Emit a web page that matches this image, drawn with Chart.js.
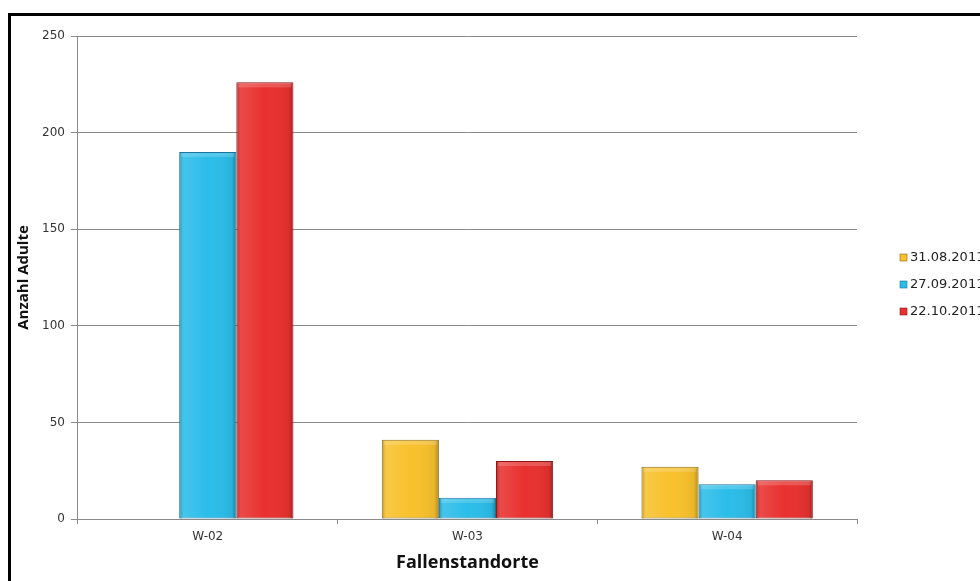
<!DOCTYPE html>
<html>
<head>
<meta charset="utf-8">
<script src="https://cdn.jsdelivr.net/npm/chart.js@4.4.0/dist/chart.umd.min.js"></script>
<style>
    html, body { margin: 0; padding: 0; background: #fff; overflow: hidden; }
    .chart-container { position: relative; width: 980px; height: 581px; }
    .frame {
        position: absolute; left: 8px; top: 13px; right: -10px; bottom: -10px;
        border-left: 3px solid #000; border-top: 3px solid #000;
        pointer-events: none;
    }
</style>
</head>
<body>
<div class="chart-container">
    <canvas id="barChart" width="980" height="581"></canvas>
    <div class="frame"></div>
</div>
<script>
// Fallenstandorte (categories)
const sites = ['W-02', 'W-03', 'W-04'];

// sampling dates (series)
const dates = ['31.08.2011', '27.09.2011', '22.10.2011'];

// Anzahl Adulte per site, one array per date
const aug31 = [0, 41, 27];
const sep27 = [190, 11, 18];
const oct22 = [226, 30, 20];

const yTicks = [0, 50, 100, 150, 200, 250];

const FILLS = ['#f8c12c', '#2bbde9', '#e8312f'];
const EDGES = ['#8a6a14', '#17739b', '#861919'];

// bevel shading over bars, so they look a bit like the excel 3d bars
const bevel = {
    id: 'bevel',
    afterDatasetsDraw(chart) {
        const ctx = chart.ctx;
        chart.data.datasets.forEach((ds, i) => {
            const meta = chart.getDatasetMeta(i);
            meta.data.forEach(bar => {
                const h = bar.base - bar.y;
                if (h < 2) return;
                const l = bar.x - bar.width / 2, r = bar.x + bar.width / 2;
                const g = ctx.createLinearGradient(l, 0, r, 0);
                g.addColorStop(0, 'rgba(0,0,0,0.25)');
                g.addColorStop(0.08, 'rgba(255,255,255,0.12)');
                g.addColorStop(0.5, 'rgba(255,255,255,0)');
                g.addColorStop(0.92, 'rgba(0,0,0,0.06)');
                g.addColorStop(1, 'rgba(0,0,0,0.3)');
                ctx.save();
                ctx.fillStyle = g;
                ctx.fillRect(l + 1, bar.y + 1, bar.width - 2, h - 1);
                ctx.fillStyle = 'rgba(255,255,255,0.18)';
                ctx.fillRect(l + 2, bar.y + 1, bar.width - 4, Math.min(4, h - 2));
                ctx.restore();
            });
        });
    }
};

// legend on the right, drawn next to the plot area like in the original
const sideLegend = {
    id: 'sideLegend',
    afterDraw(chart) {
        const ctx = chart.ctx;
        const area = chart.chartArea;
        const n = chart.data.datasets.length;
        const step = 27;
        const y0 = (area.top + area.bottom) / 2 - step * (n - 1) / 2 + 7;
        ctx.save();
        ctx.font = '13px "DejaVu Sans"';
        ctx.textBaseline = 'middle';
        chart.data.datasets.forEach((ds, i) => {
            const y = y0 + i * step;
            const x = area.right + 43;
            ctx.fillStyle = ds.backgroundColor;
            ctx.fillRect(x, y - 3.5, 7, 7);
            ctx.strokeStyle = ds.borderColor;
            ctx.lineWidth = 0.6;
            ctx.strokeRect(x, y - 3.5, 7, 7);
            ctx.fillStyle = '#222';
            ctx.fillText(ds.label, x + 10, y);
        });
        ctx.restore();
    }
};

const seriesData = [aug31, sep27, oct22];

var ctx = document.getElementById('barChart').getContext('2d');
var myChart = new Chart(ctx, {
    type: 'bar',
    data: {
        labels: sites,
        datasets: dates.map((d, i) => ({
            label: d,
            data: seriesData[i],
            backgroundColor: FILLS[i],
            borderColor: EDGES[i],
            borderWidth: 1,
            borderSkipped: false,
            barPercentage: 1.0,
            categoryPercentage: 0.66
        }))
    },
    options: {
        responsive: false,
        animation: false,
        layout: { padding: { left: 15, right: 123, top: 36, bottom: 7 } },
        plugins: {
            legend: { display: false },
            tooltip: { enabled: false }
        },
        scales: {
            x: {
                grid: {
                    display: true,
                    offset: true,
                    drawOnChartArea: false,
                    color: '#8a8a8a',
                    tickLength: 5
                },
                border: { color: '#8a8a8a', width: 1 },
                ticks: {
                    color: '#333',
                    font: { family: 'DejaVu Sans', size: 12 },
                    padding: 6
                },
                title: {
                    display: true,
                    text: 'Fallenstandorte',
                    color: '#111',
                    font: { family: 'Open Sans', size: 18, weight: 'bold' },
                    padding: { top: 2, bottom: 0 }
                }
            },
            y: {
                min: 0,
                max: 250,
                afterBuildTicks(axis) {
                    axis.ticks = yTicks.map(v => ({ value: v }));
                },
                grid: {
                    color: '#8a8a8a',
                    tickLength: 7,
                    drawTicks: true
                },
                border: { color: '#8a8a8a', width: 1 },
                ticks: {
                    color: '#333',
                    font: { family: 'DejaVu Sans', size: 12 },
                    padding: 6
                },
                title: {
                    display: true,
                    text: 'Anzahl Adulte',
                    color: '#111',
                    font: { family: 'Open Sans', size: 15, weight: 'bold' },
                    padding: { top: 0, bottom: 3 }
                }
            }
        }
    },
    plugins: [bevel, sideLegend]
});
</script>
</body>
</html>
